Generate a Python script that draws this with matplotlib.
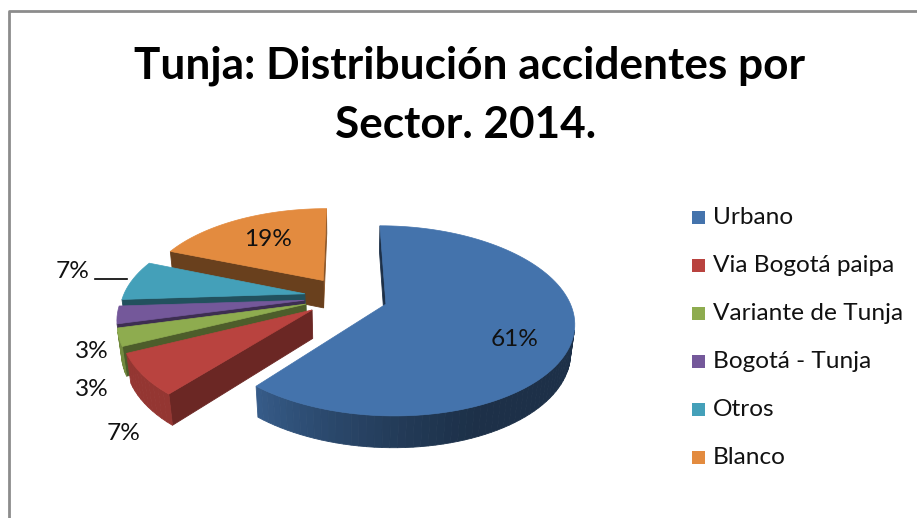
import numpy as np
import matplotlib.pyplot as plt
from matplotlib.patches import Polygon, Rectangle
import matplotlib.colors as mcolors

title = 'Tunja: Distribución accidentes por\nSector. 2014.'
labels = ['Urbano', 'Via Bogotá paipa', 'Variante de Tunja', 'Bogotá - Tunja', 'Otros', 'Blanco']
shares = [61, 7, 3, 3, 7, 19]
colors = ['#4473ac', '#b9433f', '#8eac4f', '#74589a', '#44a0b9', '#e38b3f']

# layout (pixels)
W, H = 917, 518
cx, cy = 346, 297
S = 182.0
theta = np.radians(29.5)
L = 5.0
h = 0.18
explode = 0.23
label_pos = [(515, 340), (124, 434), (92, 352), (92, 390), (73, 272), (268, 240)]

plt.rcParams['font.family'] = ['Lato', 'DejaVu Sans']

fig = plt.figure(figsize=(9.17, 5.18), dpi=100)
ax = fig.add_axes([0, 0, 1, 1])
ax.set_xlim(0, W)
ax.set_ylim(H, 0)
ax.axis('off')


def proj(x, y, z):
    depth = L + y * np.cos(theta) - z * np.sin(theta)
    sx = x * L / depth
    sy = (y * np.sin(theta) + z * np.cos(theta)) * L / depth
    return cx + S * sx, cy - S * sy


def area(pts):
    pts = np.asarray(pts)
    x, y = pts[:, 0], pts[:, 1]
    return 0.5 * np.sum(x * np.roll(y, -1) - np.roll(x, -1) * y)


def shade(col, phi, radial):
    if radial:
        f = 0.5 + 0.1 * np.cos(phi)
    else:
        f = 0.81 - 0.33 * np.cos(phi) + 0.29 * np.sin(phi)
    f = min(max(f, 0.42), 0.8)
    r, g, b = mcolors.to_rgb(col)
    return (r * f, g * f, b * f)


total = float(sum(shares))
cum = np.concatenate([[0], np.cumsum(shares)]) / total
slices = []
for i, v in enumerate(shares):
    a0 = np.radians(90 - 360 * cum[i])
    a1 = np.radians(90 - 360 * cum[i + 1])
    mid = (a0 + a1) / 2
    ox, oy = explode * np.cos(mid), explode * np.sin(mid)
    n = max(6, int(np.degrees(a0 - a1) / 2))
    angs = np.linspace(a0, a1, n)
    ring = [(ox, oy)] + [(ox + np.cos(a), oy + np.sin(a)) for a in angs]
    half = (a0 - a1) / 2
    rc = (2.0 / 3.0) * np.sin(half) / half if half > 0 else 0
    depth_key = oy + rc * np.sin(mid)
    slices.append((depth_key, i, ring, angs))

slices.sort(key=lambda s: -s[0])

for _, i, ring, angs in slices:
    col = colors[i]
    faces = []
    m = len(ring)
    for k in range(m):
        p = ring[k]
        q = ring[(k + 1) % m]
        quad = [proj(p[0], p[1], 0), proj(q[0], q[1], 0),
                proj(q[0], q[1], -h), proj(p[0], p[1], -h)]
        if area(quad) < 0:
            dx, dy = q[0] - p[0], q[1] - p[1]
            phi = np.arctan2(dx, -dy)  # outward normal for clockwise ring
            radial = k == 0 or k == m - 1
            faces.append(((p[1] + q[1]) / 2, quad, phi, radial))
    faces.sort(key=lambda f: -f[0])
    for _, quad, phi, radial in faces:
        c = shade(col, phi, radial)
        ax.add_patch(Polygon(quad, closed=True, facecolor=c, edgecolor=c, lw=0.6))
    top = [proj(x, y, 0) for x, y in ring]
    ax.add_patch(Polygon(top, closed=True, facecolor=col, edgecolor=col, lw=0.5))

# title
t1 = ax.text(470, 66, 'Tunja: Distribución accidentes por', fontsize=30, fontweight='bold',
             ha='center', va='center')
t2 = ax.text(466, 125, 'Sector. 2014.', fontsize=30, fontweight='bold', ha='center', va='center')
fig.canvas.draw()
w = t1.get_window_extent().width
fs = 30 * 670 / w
t1.set_fontsize(fs)
t2.set_fontsize(fs)

# legend
ly0, dy = 218, 48
leg_txt = []
for i, lab in enumerate(labels):
    y = ly0 + i * dy
    ax.add_patch(Rectangle((692, y - 7), 13, 13, facecolor=colors[i], edgecolor='none'))
    leg_txt.append(ax.text(713, y, lab, fontsize=15, ha='left', va='center', color='#111111'))
fig.canvas.draw()
w = leg_txt[2].get_window_extent().width
lfs = 15 * 190 / w
for t in leg_txt:
    t.set_fontsize(lfs)

# data labels
for i, v in enumerate(shares):
    x, y = label_pos[i]
    ax.text(x, y, f'{round(100 * v / total):.0f}%', fontsize=lfs, ha='center', va='center',
            color='#111111')
ax.plot([95, 127], [279, 279], color='black', lw=1.2)

# chart frame
ax.plot([9, 9, 916], [518, 11, 11], color='#8c8c8c', lw=2)

fig.savefig('out.png', dpi=100)
plt.close()
